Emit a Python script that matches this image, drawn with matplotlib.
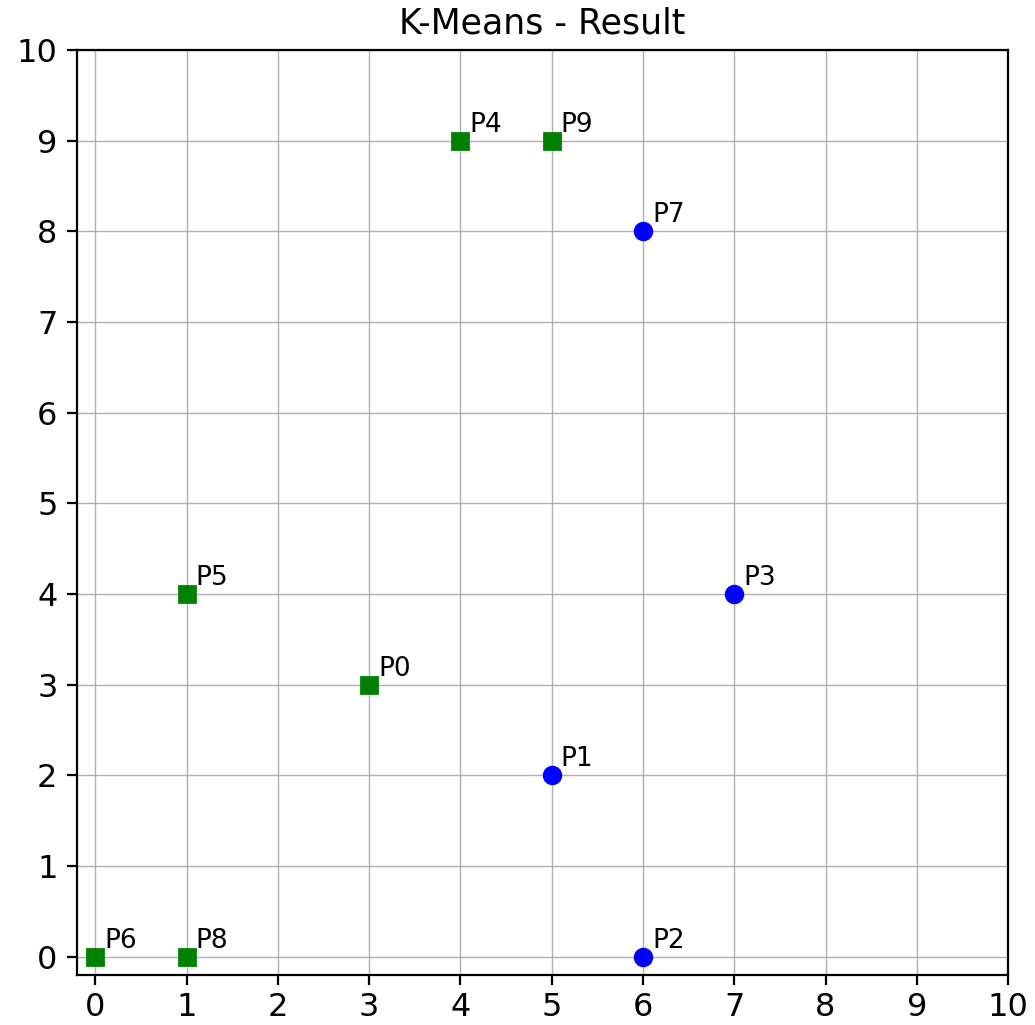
import matplotlib
matplotlib.use("Agg")
import matplotlib.pyplot as plt
import numpy as np

# points and cluster assignment
names = ["P0", "P1", "P2", "P3", "P4", "P5", "P6", "P7", "P8", "P9"]
xs = [3, 5, 6, 7, 4, 1, 0, 6, 1, 5]
ys = [3, 2, 0, 4, 9, 4, 0, 8, 0, 9]
cluster = [0, 1, 1, 1, 0, 0, 0, 1, 0, 0]

styles = {0: ("g", "s"), 1: ("b", "o")}

fig = plt.figure(figsize=(5.175, 5.125), dpi=200)
ax = fig.add_axes([0.0744, 0.0488, 0.8996, 0.9024])

for c, (col, mk) in styles.items():
    px = [x for x, k in zip(xs, cluster) if k == c]
    py = [y for y, k in zip(ys, cluster) if k == c]
    ax.plot(px, py, linestyle="none", color=col, marker=mk, markersize=6, zorder=3)

for n, x, y in zip(names, xs, ys):
    ax.text(x + 0.1, y + 0.1, n, fontsize=9.5)

ax.set_xlim(-0.2, 10)
ax.set_ylim(-0.2, 10)
ax.set_xticks(np.arange(0, 11))
ax.set_yticks(np.arange(0, 11))
ax.tick_params(labelsize=11.5)
ax.tick_params(axis="x", pad=2.5)
ax.grid(True, linewidth=0.5)
ax.set_title("K-Means - Result", fontsize=12.5)

fig.savefig("out.png", dpi=200)
